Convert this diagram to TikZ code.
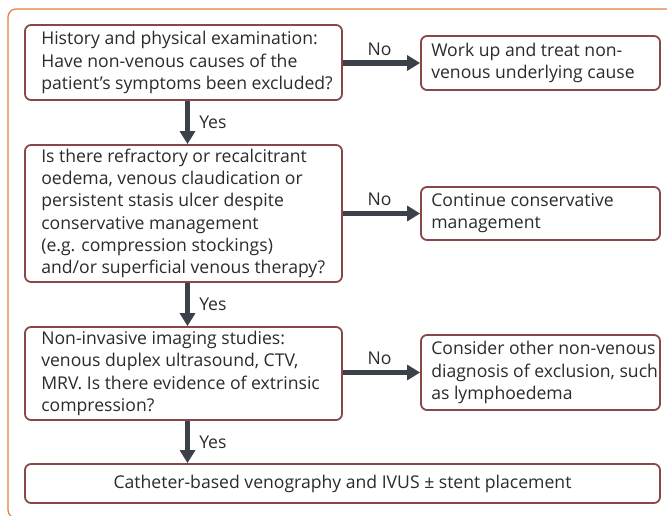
\documentclass[tikz,border=0pt]{standalone}
\usepackage{fontspec}
\setmainfont{Open Sans}
\usetikzlibrary{arrows.meta,calc}
\definecolor{boxc}{HTML}{894848}
\definecolor{arrc}{HTML}{3B404B}
\definecolor{txtc}{HTML}{2B2B2B}
\definecolor{framec}{HTML}{E5793F}
\tikzset{
  box/.style={draw=boxc, line width=1.8pt, rounded corners=6pt, fill=white},
  txt/.style={anchor=west, align=left, text=txtc, inner sep=0pt,
    font=\fontsize{17.6}{22.3}\selectfont},
  lbl/.style={text=txtc, inner sep=0pt, font=\fontsize{17.6}{20}\selectfont},
  arr/.style={draw=arrc, line width=5.5pt, -{Triangle[length=13pt,width=15pt]}},
}
\begin{document}
\begin{tikzpicture}[x=1pt,y=-1pt]
\useasboundingbox (0,0) rectangle (667,516);
\clip (0,0) rectangle (667,516);
\draw[framec, line width=1.2pt, rounded corners=8pt] (8,9) rectangle (720,518);
% left column boxes
\node[box, minimum width=317pt, minimum height=75pt] (b1) at (183.5,62.5) {};
\node[box, minimum width=317pt, minimum height=137pt] (b3) at (183.5,213.5) {};
\node[box, minimum width=317pt, minimum height=93pt] (b5) at (183.5,373.5) {};
% right column boxes
\node[box, minimum width=239pt, minimum height=54pt] (b2) at (540.5,63) {};
\node[box, minimum width=239pt, minimum height=53pt] (b4) at (540.5,213.5) {};
\node[box, minimum width=239pt, minimum height=75pt] (b6) at (540.5,372.5) {};
% bottom box
\node[box, minimum width=635pt, minimum height=39pt] (b7) at (342.5,483.5) {};
% texts
\node[txt] (t1) at ([xshift=17pt]b1.west) {History and physical examination:\\Have non-venous causes of the\\patient’s symptoms been excluded?};
\node[txt] (t3) at ([xshift=17pt]b3.west) {Is there refractory or recalcitrant\\oedema, venous claudication or\\persistent stasis ulcer despite\\conservative management\\(e.g. compression stockings)\\and/or superficial venous therapy?};
\node[txt] (t5) at ([xshift=17pt]b5.west) {Non-invasive imaging studies:\\venous duplex ultrasound, CTV,\\MRV. Is there evidence of extrinsic\\compression?};
\node[txt] (t2) at ([xshift=11pt]b2.west) {Work up and treat non-\\venous underlying cause};
\node[txt] (t4) at ([xshift=11pt]b4.west) {Continue conservative\\management};
\node[txt] (t6) at ([xshift=11pt]b6.west) {Consider other non-venous\\diagnosis of exclusion, such\\as lymphoedema};
\node[txt, anchor=center] (t7) at (b7.center) {Catheter-based venography and IVUS ± stent placement};
% vertical arrows
\draw[arr] ([xshift=4pt]b1.south) -- node[lbl, anchor=west, xshift=9pt] (y1) {Yes} ([xshift=4pt]b3.north);
\draw[arr] ([xshift=4pt]b3.south) -- node[lbl, anchor=west, xshift=9pt] (y2) {Yes} ([xshift=4pt]b5.north);
\draw[arr] ([xshift=4pt]b5.south) -- node[lbl, anchor=west, xshift=9pt] (y3) {Yes} ([xshift=4pt]b7.north -| b5.south);
% horizontal arrows
\draw[arr] (b1.east |- b2.west) -- node[lbl, anchor=south, yshift=5pt, xshift=-2pt] (n1) {No} (b2.west);
\draw[arr] (b3.east |- b4.west) -- node[lbl, anchor=south, yshift=5pt, xshift=-2pt] (n2) {No} (b4.west);
\draw[arr] (b5.east |- b6.west) -- node[lbl, anchor=south, yshift=5pt, xshift=-2pt] (n3) {No} (b6.west);
\end{tikzpicture}
\end{document}
